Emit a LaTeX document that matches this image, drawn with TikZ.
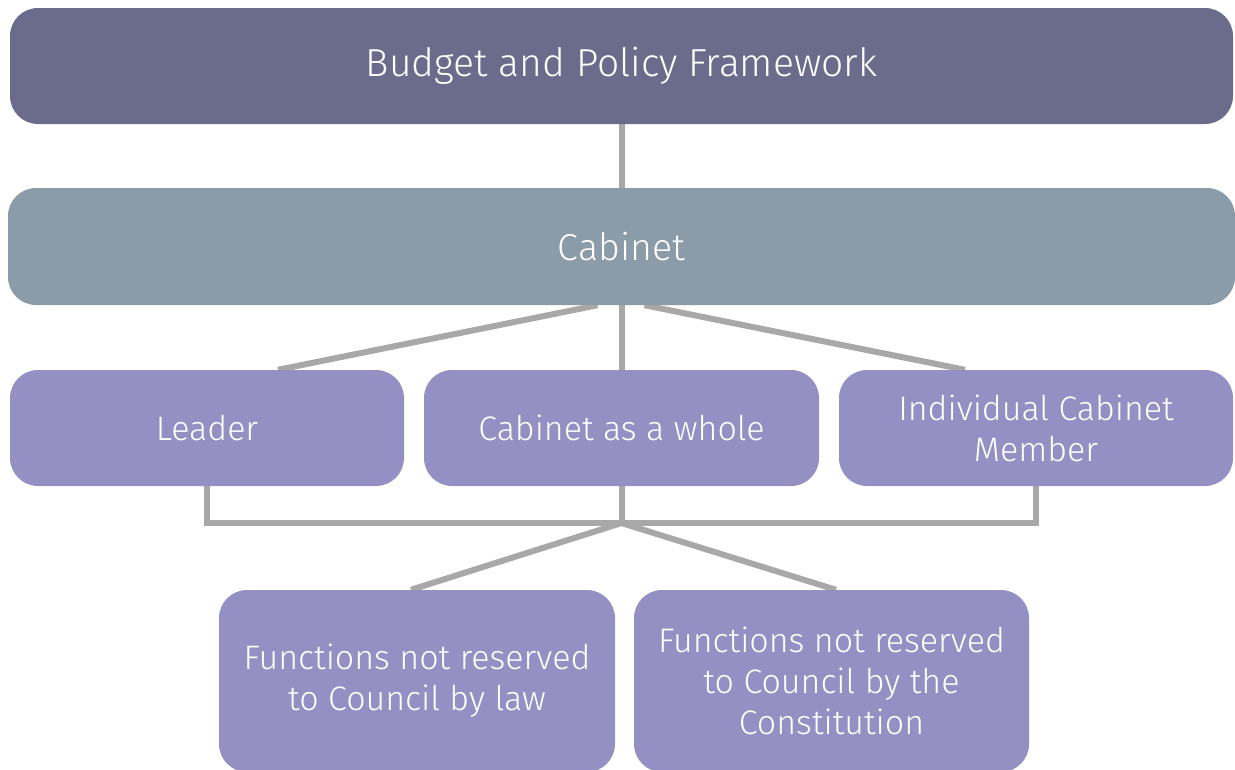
\documentclass[tikz,border=0pt]{standalone}
\usepackage{fontspec}
\setmainfont{Fira Sans}[UprightFont=* Light]
\usetikzlibrary{backgrounds}
\definecolor{topc}{HTML}{6B6C8C}
\definecolor{cabc}{HTML}{8B9BA8}
\definecolor{boxc}{HTML}{9490C4}
\definecolor{linec}{HTML}{A8A8A8}
\tikzset{
  box/.style={draw=none, fill=boxc, rounded corners=28pt, text=white, align=center,
    font=\fontsize{34}{41}\selectfont, inner sep=0pt, minimum height=116pt},
  conn/.style={draw=linec, line width=6pt}
}
\begin{document}
\begin{tikzpicture}[x=1pt,y=-1pt]
\useasboundingbox (0,0) rectangle (1235,769);
\clip (0,0) rectangle (1235,769);
\node[box, fill=topc, minimum width=1223pt, font=\fontsize{39}{44}\selectfont] (bpf) at (621.5,66) {Budget and Policy Framework};
\node[box, fill=cabc, minimum width=1227pt, minimum height=117pt, font=\fontsize{37.5}{42}\selectfont] (cab) at (621.5,246.5) {Cabinet};
\node[box, minimum width=394pt] (leader) at (207,428) {Leader};
\node[box, minimum width=395pt] (whole) at (621.5,428) {Cabinet as a whole};
\node[box, minimum width=394pt] (indiv) at (1036,428) {Individual Cabinet\\Member};
\node[box, minimum width=396pt, minimum height=182pt] (law) at (417,681) {Functions not reserved\\to Council by law};
\node[box, minimum width=395pt, minimum height=182pt] (const) at (831.5,681) {Functions not reserved\\to Council by the\\Constitution};
\coordinate (junc) at (621.5,523);
\begin{scope}[on background layer]
\draw[conn] (bpf.south) -- (cab.north);
\draw[conn] ([xshift=-24pt]cab.south) -- ([xshift=71pt]leader.north);
\draw[conn] (cab.south) -- (whole.north);
\draw[conn] ([xshift=23pt]cab.south) -- ([xshift=-71pt]indiv.north);
\draw[conn] (leader.south) |- (junc) -| (indiv.south);
\draw[conn] (whole.south) -- (junc);
\draw[conn] (junc) -- ([xshift=-6pt]law.north);
\draw[conn] (junc) -- ([xshift=4.5pt]const.north);
\end{scope}
\end{tikzpicture}
\end{document}
